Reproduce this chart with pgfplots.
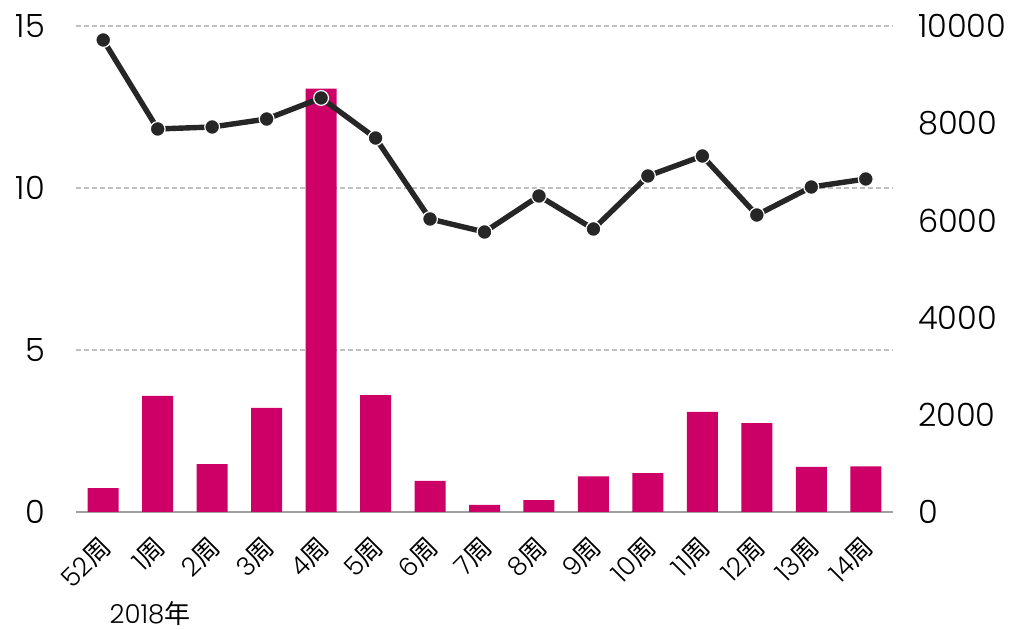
\documentclass[border=0pt]{standalone}
\usepackage{fontspec}
\setmainfont{Poppins Light}
\newfontfamily\cjk{Noto Sans CJK SC}
\usepackage{pgfplots}
\pgfplotsset{compat=1.18}
\definecolor{barc}{RGB}{204,0,102}
\definecolor{linec}{RGB}{38,38,38}
\definecolor{gridc}{RGB}{191,191,191}
\definecolor{axc}{RGB}{160,160,160}
\begin{document}
\begin{tikzpicture}
\path[use as bounding box] (-38pt,-59pt) rectangle (468.5pt,256pt);
\begin{axis}[
  at={(0,0)}, anchor=south west, scale only axis,
  width=408.5pt, height=243pt,
  xmin=-0.5, xmax=14.5, ymin=0, ymax=15,
  axis x line*=bottom, axis y line*=left,
  y axis line style={draw=none},
  x axis line style={draw=axc, line width=1pt, -},
  major tick length=0pt,
  ytick={0,5,10,15},
  ymajorgrids,
  grid style={gridc, line width=0.6pt, dash pattern=on 2.5pt off 1.5pt},
  xtick={0,...,14},
  xticklabels={52{\cjk 周},1{\cjk 周},2{\cjk 周},3{\cjk 周},4{\cjk 周},5{\cjk 周},6{\cjk 周},7{\cjk 周},8{\cjk 周},9{\cjk 周},10{\cjk 周},11{\cjk 周},12{\cjk 周},13{\cjk 周},14{\cjk 周}},
  x tick label style={xshift=-2.5pt, yshift=-11pt, rotate=45, anchor=north east, font=\fontsize{13}{16}\selectfont, inner sep=0pt},
  y tick label style={font=\fontsize{16}{19}\selectfont},
  yticklabel style={xshift=-12pt},
  /pgf/number format/assume math mode=true,
]
\addplot[ybar, bar width=15.5pt, fill=barc, draw=none] coordinates {
(0,0.74) (1,3.58) (2,1.48) (3,3.21) (4,13.07) (5,3.61) (6,0.96) (7,0.22)
(8,0.37) (9,1.10) (10,1.20) (11,3.09) (12,2.74) (13,1.39) (14,1.41)};
\end{axis}
\begin{axis}[
  at={(0,0)}, anchor=south west, scale only axis,
  width=408.5pt, height=243pt,
  xmin=-0.5, xmax=14.5, ymin=0, ymax=10000,
  axis x line=none, axis y line*=right,
  y axis line style={draw=none},
  major tick length=0pt,
  ytick={0,2000,4000,6000,8000,10000},
  y tick label style={font=\fontsize{16}{19}\selectfont, /pgf/number format/1000 sep={}},
  yticklabel style={xshift=9pt},
  scaled y ticks=false,
  /pgf/number format/assume math mode=true,
]
\addplot[linec, line width=2.7pt, mark=*, mark size=3.7pt,
  mark options={fill=linec, draw=white, line width=0.6pt}] coordinates {
(0,9712) (1,7881) (2,7922) (3,8086) (4,8519) (5,7695) (6,6029) (7,5761)
(8,6502) (9,5823) (10,6914) (11,7325) (12,6111) (13,6687) (14,6852)};
\end{axis}
\node[font=\fontsize{13}{15}\selectfont] at (37pt,-51pt) {2018{\cjk 年}};
\end{tikzpicture}
\end{document}
